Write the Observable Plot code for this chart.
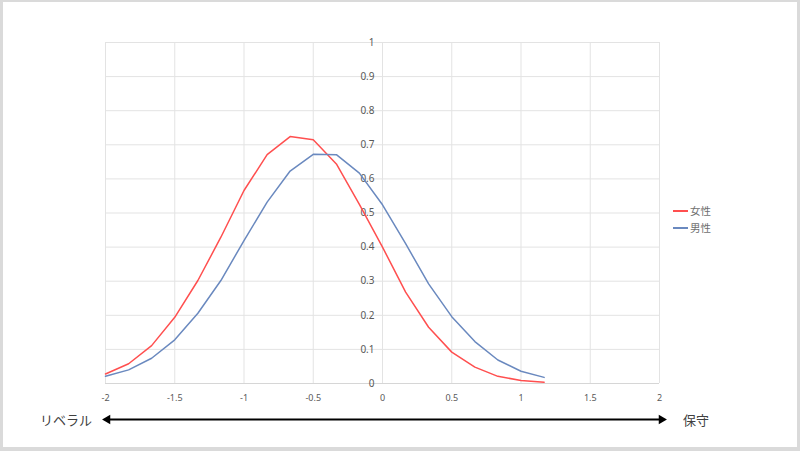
<!DOCTYPE html>
<html>
<head>
<meta charset="utf-8">
<script src="https://cdn.jsdelivr.net/npm/d3@7"></script>
<script src="https://cdn.jsdelivr.net/npm/@observablehq/plot@0.6"></script>
<style>
  html, body { margin: 0; padding: 0; background: #fff; }
  #wrap { position: relative; width: 800px; height: 451px; overflow: hidden; background: #fff;
          font-family: "Noto Sans CJK JP", "Noto Sans", sans-serif; }
  #border { position: absolute; left: 0; top: 0; width: 800px; height: 451px; box-sizing: border-box;
            border-left: 3px solid #dadada; border-top: 2px solid #dadada; border-right: 3px solid #dadada;
            border-bottom: 4px solid #dadada; pointer-events: none; }
  #chart { position: absolute; left: 0; top: 0; }
  .leg { position: absolute; left: 673px; font-size: 10.5px; color: #6f6f6f; display: flex; align-items: center; }
  .leg span.sw { display: inline-block; width: 15px; height: 2px; margin-right: 2px; }
  .end { position: absolute; font-size: 13px; color: #404040; }
</style>
</head>
<body>
<div id="wrap">
  <div id="chart"></div>
  <div class="leg" style="top:203px;"><span class="sw" style="background:#ff4f4f"></span>女性</div>
  <div class="leg" style="top:220px;"><span class="sw" style="background:#6a89bf"></span>男性</div>
  <div class="end" style="left:40px; top:410px;">リベラル</div>
  <div class="end" style="left:683px; top:410px;">保守</div>
  <div id="border"></div>
</div>
<script>
// Data
const xValues = [-2, -1.833, -1.667, -1.5, -1.333, -1.167, -1, -0.833, -0.667, -0.5,
                 -0.333, -0.167, 0, 0.167, 0.333, 0.5, 0.667, 0.833, 1, 1.167];
const female = [0.028, 0.058, 0.111, 0.194, 0.302, 0.429, 0.566, 0.671, 0.724, 0.715,
                0.644, 0.525, 0.400, 0.268, 0.165, 0.092, 0.048, 0.021, 0.009, 0.004];
const male   = [0.021, 0.040, 0.074, 0.128, 0.206, 0.302, 0.419, 0.532, 0.623, 0.672,
                0.671, 0.617, 0.524, 0.410, 0.292, 0.196, 0.123, 0.069, 0.036, 0.018];
const seriesNames = ["女性", "男性"];
const seriesColors = ["#ff4f4f", "#6a89bf"];
const xTicks = [-2, -1.5, -1, -0.5, 0, 0.5, 1, 1.5, 2];
const xTickLabels = ["-2", "-1.5", "-1", "-0.5", "0", "0.5", "1", "1.5", "2"];
const yTicks = [0, 0.1, 0.2, 0.3, 0.4, 0.5, 0.6, 0.7, 0.8, 0.9, 1];
const yTickLabels = ["0", "0.1", "0.2", "0.3", "0.4", "0.5", "0.6", "0.7", "0.8", "0.9", "1"];
const arrowEnds = [{x1: -2, x2: 2}];

const rows = [];
xValues.forEach((x, i) => {
  rows.push({x, y: female[i], s: seriesNames[0]});
  rows.push({x, y: male[i], s: seriesNames[1]});
});
const xt = xTicks.map((v, i) => ({v, l: xTickLabels[i]}));
const yt = yTicks.map((v, i) => ({v, l: yTickLabels[i]}));

const chart = Plot.plot({
  width: 800,
  height: 451,
  marginLeft: 105,
  marginRight: 141,
  marginTop: 42,
  marginBottom: 68,
  x: {domain: [-2, 2], axis: null},
  y: {domain: [0, 1], axis: null},
  color: {domain: seriesNames, range: seriesColors},
  style: {background: "transparent", fontFamily: "'Noto Sans', sans-serif"},
  marks: [
    Plot.ruleY(yTicks, {stroke: "#e3e3e3", strokeWidth: 1}),
    Plot.ruleX(xTicks, {stroke: "#e3e3e3", strokeWidth: 1}),
    Plot.ruleY([0], {stroke: "#d6d6d6", strokeWidth: 1}),
    Plot.text(yt, {x: () => 0, y: "v", text: "l", textAnchor: "end", dx: -8, fill: "#595959", fontSize: 10}),
    Plot.text(xt, {x: "v", y: () => 0, text: "l", dy: 15, fill: "#595959", fontSize: 9}),
    Plot.line(rows, {x: "x", y: "y", z: "s", stroke: "s", strokeWidth: 1.5}),
    Plot.link(arrowEnds, {x1: "x1", x2: "x2", y1: () => 0, y2: () => 0, dy: 36, stroke: "#000", strokeWidth: 2}),
    Plot.dot(arrowEnds, {x: "x1", y: () => 0, dy: 36, dx: 2, symbol: "triangle2", r: 4.5, fill: "#000", rotate: -90}),
    Plot.dot(arrowEnds, {x: "x2", y: () => 0, dy: 36, dx: 2, symbol: "triangle2", r: 4.5, fill: "#000", rotate: 90})
  ]
});
document.getElementById("chart").appendChild(chart);
</script>
</body>
</html>
